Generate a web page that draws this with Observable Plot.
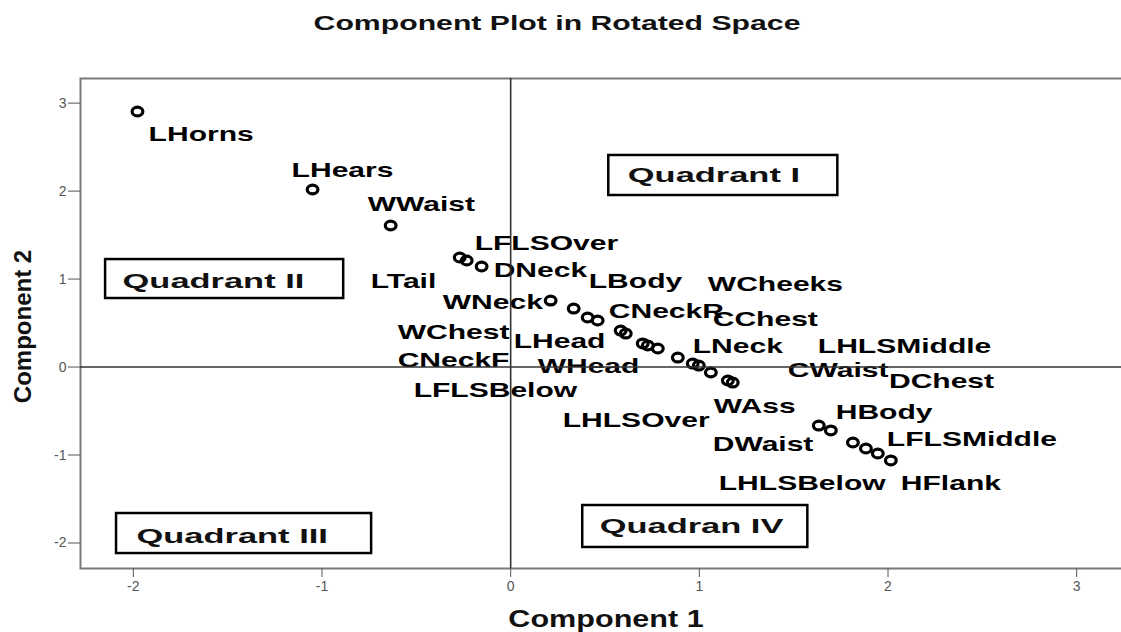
<!DOCTYPE html>
<html>
<head>
<meta charset="utf-8">
<script src="https://cdn.jsdelivr.net/npm/d3@7"></script>
<script src="https://cdn.jsdelivr.net/npm/@observablehq/plot@0.6"></script>
<style>
  html, body { margin: 0; padding: 0; background: white; overflow: hidden; }
  #chart svg { display: block; }
</style>
</head>
<body>
<div id="chart"></div>
<script>
// ---- data ----
const titleText = "Component Plot in Rotated Space";
const xTitle = "Component 1";
const yTitle = "Component 2";

const names = [
  "LHorns", "LHears", "WWaist",
  "LFLSOver", "LTail", "DNeck",
  "WNeck", "WChest", "CNeckF", "LBody", "LHead", "CNeckR", "WHead", "LFLSBelow",
  "WCheeks", "CChest", "LHLSOver", "LNeck", "CWaist", "WAss", "LHLSMiddle",
  "HBody", "DWaist", "DChest", "LFLSMiddle", "LHLSBelow", "HFlank"
];
const comp1 = [
  -1.978, -1.050, -0.636,
  -0.270, -0.233, -0.154,
  0.212, 0.334, 0.408, 0.461, 0.583, 0.610, 0.700, 0.727,
  0.780, 0.886, 0.965, 0.997, 1.061, 1.151, 1.177,
  1.633, 1.697, 1.814, 1.883, 1.946, 2.015
];
const comp2 = [
  2.905, 2.018, 1.609,
  1.245, 1.211, 1.143,
  0.756, 0.665, 0.563, 0.529, 0.415, 0.381, 0.268, 0.245,
  0.211, 0.108, 0.040, 0.017, -0.062, -0.153, -0.176,
  -0.665, -0.721, -0.858, -0.926, -0.983, -1.062
];
// label anchors (left end / baseline) in component units
const labelX = [
  -1.919, -1.161, -0.758,
  -0.191, -0.742, -0.090,
  -0.360, -0.599, -0.599, 0.414, 0.016, 0.520, 0.143, -0.514,
  1.045, 1.071, 0.276, 0.965, 1.469, 1.077, 1.628,
  1.723, 1.071, 2.005, 1.994, 1.103, 2.068
];
const labelY = [
  2.575, 2.166, 1.779,
  1.336, 0.904, 1.018,
  0.665, 0.324, -0.005, 0.904, 0.211, 0.563, -0.073, -0.346,
  0.859, 0.472, -0.687, 0.154, -0.108, -0.517, 0.154,
  -0.585, -0.960, -0.233, -0.903, -1.403, -1.403
];

const quadNames = ["Quadrant I", "Quadrant II", "Quadrant III", "Quadran IV"];
const quadX1 = [0.520, -2.147, -2.089, 0.382];
const quadX2 = [1.734, -0.885, -0.737, 1.575];
const quadY1 = [1.950, 0.779, -2.120, -2.051];
const quadY2 = [2.405, 1.222, -1.665, -1.574];
const quadTextX = [0.621, -2.057, -1.983, 0.472];
const quadTextY = [2.098, 0.904, -1.995, -1.892];

const xTicks = [-2, -1, 0, 1, 2, 3];
const yTicks = [-2, -1, 0, 1, 2, 3];
const xDomain = [-2.28, 3.28];
const yDomain = [-2.29, 3.28];

// ---- tables built from the arrays ----
const points = names.map((name, i) => ({name, c1: comp1[i], c2: comp2[i], lx: labelX[i], ly: labelY[i]}));
const quads = quadNames.map((name, i) => ({
  name, x1: quadX1[i], x2: quadX2[i], y1: quadY1[i], y2: quadY2[i], tx: quadTextX[i], ty: quadTextY[i]
}));

// slightly wide open marker (the reference picture is stretched horizontally)
const ovalSymbol = {
  draw(ctx, size) {
    const r = Math.sqrt(size / Math.PI);
    const rx = r * 1.22, ry = r, k = 0.5523;
    ctx.moveTo(rx, 0);
    ctx.bezierCurveTo(rx, ry * k, rx * k, ry, 0, ry);
    ctx.bezierCurveTo(-rx * k, ry, -rx, ry * k, -rx, 0);
    ctx.bezierCurveTo(-rx, -ry * k, -rx * k, -ry, 0, -ry);
    ctx.bezierCurveTo(rx * k, -ry, rx, -ry * k, rx, 0);
    ctx.closePath();
  }
};

const FONT = "'Liberation Sans', Arial, Helvetica, sans-serif";

const chart = Plot.plot({
  width: 1121,
  height: 632,
  marginLeft: 80,
  marginRight: -8,
  marginTop: 78,
  marginBottom: 64,
  style: {fontFamily: FONT, background: "white"},
  x: {domain: xDomain},
  y: {domain: yDomain},
  marks: [
    Plot.frame({stroke: "#7a7a7a", strokeWidth: 2}),
    Plot.axisX({ticks: xTicks, tickSize: 9, tickPadding: 4, fontSize: 14, color: "#555",
      tickFormat: d => String(d), label: null}),
    Plot.axisY({ticks: yTicks, tickSize: 12, tickPadding: 2, fontSize: 14, color: "#555",
      tickFormat: d => String(d), label: null}),
    Plot.rect(quads, {x1: "x1", x2: "x2", y1: "y1", y2: "y2", fill: "none", stroke: "black", strokeWidth: 2.5}),
    Plot.text(quads, {x: "tx", y: "ty", text: "name", textAnchor: "start", lineAnchor: "bottom",
      fontSize: 21, fontWeight: "bold", fill: "#111"}),
    Plot.dot(points, {x: "c1", y: "c2", r: 4.4, symbol: ovalSymbol, fill: "none", stroke: "black", strokeWidth: 3.2}),
    Plot.text(points, {x: "lx", y: "ly", text: "name", textAnchor: "start", lineAnchor: "bottom",
      fontSize: 21, fontWeight: "bold", fill: "black"}),
    Plot.ruleX([0], {stroke: "#333", strokeWidth: 1.6}),
    Plot.ruleY([0], {stroke: "#333", strokeWidth: 1.6}),
    Plot.text([titleText], {frameAnchor: "top", dx: -48, dy: -49, lineAnchor: "bottom",
      fontSize: 21, fontWeight: "bold", fill: "#111"}),
    Plot.text([xTitle], {frameAnchor: "bottom", dx: 1, dy: 58, lineAnchor: "bottom",
      fontSize: 23, fontWeight: "bold", fill: "#111"}),
    Plot.text([yTitle], {frameAnchor: "left", dx: -50, dy: 3, rotate: -90, lineAnchor: "bottom",
      textAnchor: "middle", fontSize: 24, fontWeight: "bold", fill: "#111"})
  ]
});

document.getElementById("chart").append(chart);

// widen text horizontally (the reference picture is stretched sideways)
function stretchText(t, k) {
  const tr = t.getAttribute("transform") || "";
  const m = /translate\(\s*([-\d.e]+)[\s,]+([-\d.e]+)\s*\)/.exec(tr);
  if (!m) return;
  const X = +m[1], Y = +m[2];
  t.setAttribute("transform", `matrix(${k},0,0,1,${X},${Y})`);
}
const labelSet = new Set(names);
const quadSet = new Set(quadNames);
chart.querySelectorAll("text").forEach(t => {
  const s = t.textContent;
  if (labelSet.has(s)) stretchText(t, 1.43);
  else if (quadSet.has(s)) stretchText(t, 1.64);
  else if (s === titleText) stretchText(t, 1.44);
  else if (s === xTitle) stretchText(t, 1.33);
});
</script>
</body>
</html>
